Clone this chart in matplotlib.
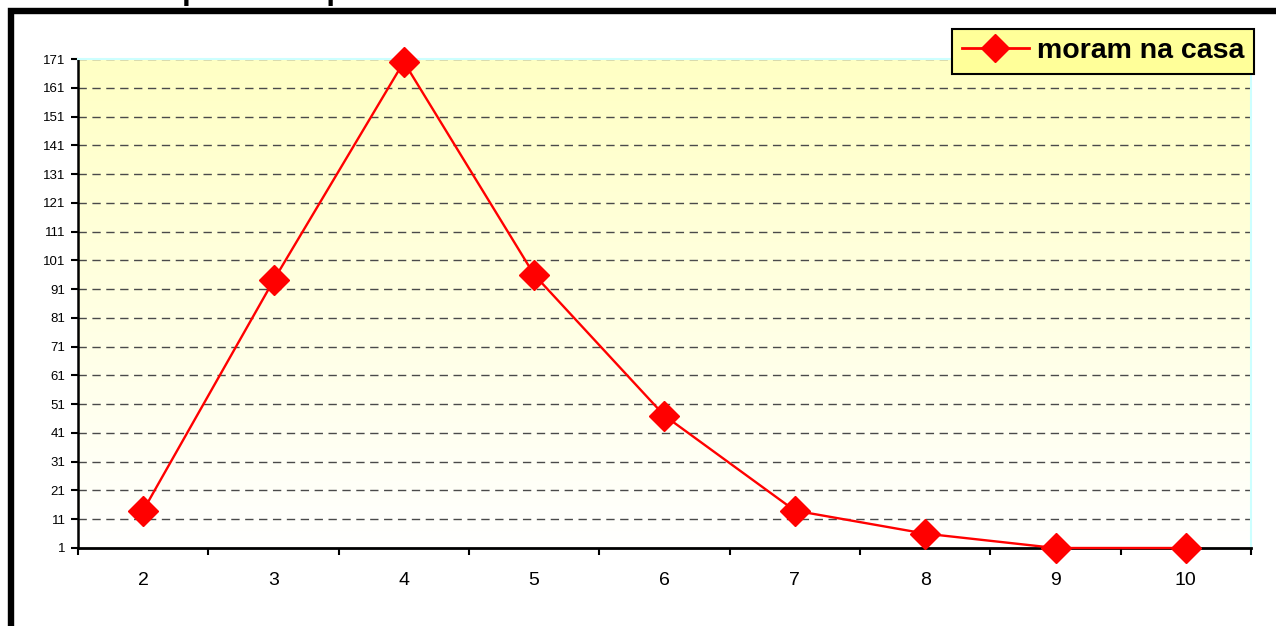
import numpy as np
import matplotlib
matplotlib.use('Agg')
import matplotlib.pyplot as plt
from matplotlib.patches import Rectangle
from matplotlib.colors import LinearSegmentedColormap

# dados do grafico
pessoas = ['2', '3', '4', '5', '6', '7', '8', '9', '10']
moram = [14, 94, 170, 96, 47, 14, 6, 1, 1]
yticks = list(range(1, 172, 10))
titulo = 'Número de pessoas que moram na casa'
legenda = 'moram na casa'

plt.rcParams['font.family'] = ['Liberation Sans', 'DejaVu Sans']

W, H = 1276, 626
fig = plt.figure(figsize=(W / 100, H / 100), dpi=100)
fig.patch.set_facecolor('white')


def px(x, y):
    # pixel (top-left origin) -> figure coords
    return x / W, 1 - y / H


# title, mostly cut off by the top edge (as in the original)
fig.text(10 / W, 1 + 1 / H, titulo, fontsize=22.5, fontweight='bold',
         ha='left', va='baseline')

# outer black frame (continues past right/bottom edges)
fig.patches.append(Rectangle(px(11, 700), 1400 / W, 689 / H, transform=fig.transFigure,
                             fill=False, edgecolor='black', linewidth=4.6, zorder=0))

x0, y0 = px(78, 548)
x1, y1 = px(1251, 59)
ax = fig.add_axes([x0, y0, x1 - x0, y1 - y0])

# gradient background
cmap = LinearSegmentedColormap.from_list('bg', ['#ffffff', '#ffffc4'])
grad = np.linspace(0, 1, 256).reshape(-1, 1)
ax.imshow(grad, aspect='auto', cmap=cmap, origin='lower',
          extent=[0, 1, 0, 1], transform=ax.transAxes, zorder=0)

xs = np.arange(len(pessoas))
ax.plot(xs, moram, color='#ff0000', linewidth=1.7, marker='D', markersize=15,
        markerfacecolor='#ff0000', markeredgecolor='#ff0000', zorder=5,
        clip_on=False, label=legenda)

ax.set_xlim(-0.5, len(pessoas) - 0.5)
ax.set_ylim(1, 171)
ax.set_yticks(yticks)
ax.set_yticklabels([str(v) for v in yticks], fontsize=9.5)
ax.set_xticks(np.arange(len(pessoas) + 1) - 0.5)
ax.set_xticklabels([])
ax.set_xticks(xs, minor=True)
ax.set_xticklabels(pessoas, minor=True, fontsize=14)
ax.tick_params(axis='x', which='major', direction='out', length=5, width=1.5)
ax.tick_params(axis='x', which='minor', length=0, pad=17)
ax.tick_params(axis='y', direction='out', length=5, width=1.5, pad=4)

for v in yticks[1:]:
    ax.axhline(v, color='#4a4a4a', linestyle=(0, (6, 4)), linewidth=1.0, zorder=1)

ax.spines['left'].set_linewidth(1.8)
ax.spines['bottom'].set_linewidth(2)
ax.spines['bottom'].set_zorder(4)
ax.spines['top'].set_color('#ccffff')
ax.spines['right'].set_color('#ccffff')
ax.spines['top'].set_linewidth(1.5)
ax.spines['right'].set_linewidth(1.5)

leg = ax.legend(loc='upper right', bbox_to_anchor=px(1254, 29), bbox_transform=fig.transFigure,
                prop={'weight': 'bold', 'size': 20.5}, frameon=True, fancybox=False,
                handlelength=2.35, handletextpad=0.3, borderpad=0.33, borderaxespad=0)
leg.get_frame().set_facecolor('#ffff99')
leg.get_frame().set_edgecolor('black')
leg.get_frame().set_linewidth(1.5)
leg.get_frame().set_alpha(1)
leg.legend_handles[0].set_markersize(14)
leg.legend_handles[0].set_linewidth(2)

fig.savefig('out.png', dpi=100)
